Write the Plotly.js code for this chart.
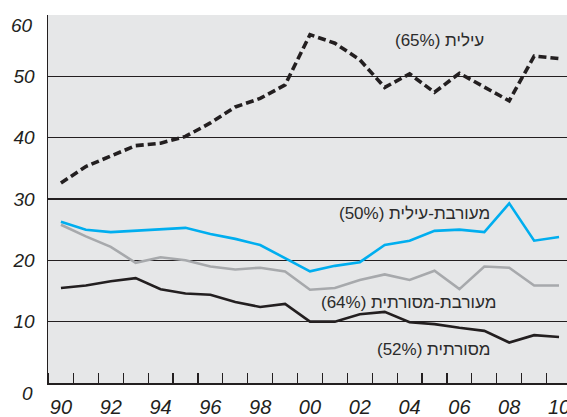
<!DOCTYPE html>
<html>
<head>
<meta charset="utf-8">
<script src="https://cdn.plot.ly/plotly-3.0.1.min.js"></script>
<style>
  html, body { margin: 0; padding: 0; background: #fff; }
  #chart { width: 567px; height: 417px; }
</style>
</head>
<body>
<div id="chart"></div>
<script>
const yearLabels = ["90", "92", "94", "96", "98", "00", "02", "04", "06", "08", "10"];
const years = [1990, 1991, 1992, 1993, 1994, 1995, 1996, 1997, 1998, 1999, 2000,
  2001, 2002, 2003, 2004, 2005, 2006, 2007, 2008, 2009, 2010];
const valueLabels = ["0", "10", "20", "30", "40", "50", "60"];

const elite = [32.6, 35.3, 37.0, 38.7, 39.1, 40.2, 42.4, 45.0, 46.4, 48.6, 56.8,
  55.4, 52.7, 48.2, 50.4, 47.4, 50.5, 48.2, 46.0, 53.3, 52.9];
const mixedElite = [26.3, 25.0, 24.6, 24.8, 25.0, 25.3, 24.3, 23.5, 22.5, 20.3, 18.2,
  19.1, 19.7, 22.5, 23.2, 24.8, 25.0, 24.6, 29.3, 23.2, 23.8];
const mixedTraditional = [25.8, 23.9, 22.2, 19.6, 20.5, 20.0, 19.0, 18.5, 18.8, 18.2, 15.2,
  15.5, 16.8, 17.7, 16.8, 18.3, 15.3, 19.0, 18.8, 15.9, 15.9];
const traditional = [15.5, 15.9, 16.6, 17.1, 15.3, 14.6, 14.4, 13.2, 12.4, 12.9, 10.0,
  10.0, 11.2, 11.6, 9.9, 9.6, 9.0, 8.5, 6.6, 7.8, 7.5];

const seriesNames = ["(65%) עילית", "(50%) מעורבת-עילית", "(64%) מעורבת-מסורתית", "(52%) מסורתית"];

const x = years.map((y, i) => i);
const ink = "#231f20";
const textFont = { family: "Liberation Sans, Arial, sans-serif", size: 17, color: "#2b2b2b" };
const tickFont = { family: "Liberation Sans, Arial, sans-serif", size: 20, color: ink };

const traces = [
  { x: x, y: traditional, name: seriesNames[3], mode: "lines",
    line: { color: ink, width: 2.6 } },
  { x: x, y: mixedTraditional, name: seriesNames[2], mode: "lines",
    line: { color: "#a7a9ac", width: 2.6 } },
  { x: x, y: mixedElite, name: seriesNames[1], mode: "lines",
    line: { color: "#00aeef", width: 2.6 } },
  { x: x, y: elite, name: seriesNames[0], mode: "lines",
    line: { color: ink, width: 3.6, dash: "8px,4px" } },
];

const italic = (s) => "<i>" + s + "</i>";

const layout = {
  width: 567,
  height: 417,
  margin: { l: 48, r: 0, t: 15, b: 34 },
  paper_bgcolor: "#ffffff",
  plot_bgcolor: "#e6e7e8",
  showlegend: false,
  font: { family: "Liberation Sans, Arial, sans-serif", color: ink },
  xaxis: {
    range: [-0.52, 20.32],
    tickmode: "array",
    tickvals: yearLabels.map((t, i) => i * 2),
    ticktext: yearLabels.map(italic),
    ticks: "",
    ticklabelstandoff: 5,
    ticklabeloverflow: "allow",
    tickfont: tickFont,
    showgrid: false,
    zeroline: false,
    showline: true,
    linecolor: ink,
    linewidth: 1.5,
    minor: { tick0: 0.5, dtick: 1, ticks: "inside", ticklen: 10, tickwidth: 1.2, tickcolor: ink, showgrid: false },
  },
  yaxis: {
    range: [0, 60],
    tickmode: "array",
    tickvals: [10, 20, 30, 40, 50, 60],
    ticktext: valueLabels.slice(1, 6).map(italic).concat([""]),
    ticks: "",
    ticklabelstandoff: 8,
    tickfont: { ...tickFont, size: 19 },
    showgrid: true,
    gridcolor: ink,
    gridwidth: 1.2,
    zeroline: false,
    showline: true,
    linecolor: ink,
    linewidth: 1.5,
  },
  annotations: [
    { xref: "paper", yref: "y", x: 0, y: 60, xanchor: "right", yanchor: "middle", xshift: -13, yshift: -10,
      text: italic(valueLabels[6]), showarrow: false, font: { ...tickFont, size: 19 } },
    { xref: "paper", yref: "y", x: 0, y: 0, xanchor: "right", yanchor: "middle", xshift: -13, yshift: -10,
      text: italic(valueLabels[0]), showarrow: false, font: { ...tickFont, size: 19 } },
    { x: 17.05, y: 55.8, xanchor: "right", text: seriesNames[0], showarrow: false, font: textFont },
    { x: 17.3, y: 27.6, xanchor: "right", text: seriesNames[1], showarrow: false, font: textFont },
    { x: 17.55, y: 13.2, xanchor: "right", text: seriesNames[2], showarrow: false, font: textFont },
    { x: 17.3, y: 5.4, xanchor: "right", text: seriesNames[3], showarrow: false, font: textFont },
  ],
};

Plotly.newPlot("chart", traces, layout, { displayModeBar: false, staticPlot: true });
</script>
</body>
</html>
